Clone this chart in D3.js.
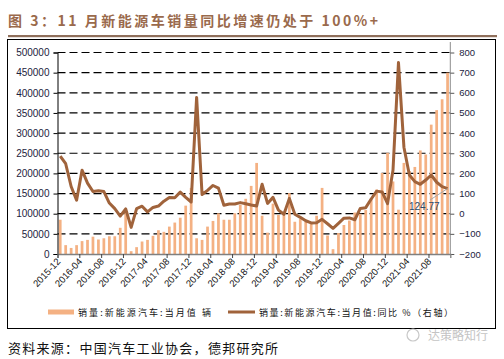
<!DOCTYPE html>
<html><head><meta charset="utf-8">
<script src="https://cdn.jsdelivr.net/npm/d3@7/dist/d3.min.js"></script>
<style>
html,body{margin:0;padding:0;background:#fff;}
svg{display:block;}
</style></head>
<body>
<svg id="c" width="504" height="359"></svg>
<script>
const months = [
"2015-12",
"2016-01","2016-02","2016-03","2016-04","2016-05","2016-06","2016-07","2016-08","2016-09","2016-10","2016-11","2016-12",
"2017-01","2017-02","2017-03","2017-04","2017-05","2017-06","2017-07","2017-08","2017-09","2017-10","2017-11","2017-12",
"2018-01","2018-02","2018-03","2018-04","2018-05","2018-06","2018-07","2018-08","2018-09","2018-10","2018-11","2018-12",
"2019-01","2019-02","2019-03","2019-04","2019-05","2019-06","2019-07","2019-08","2019-09","2019-10","2019-11","2019-12",
"2020-01","2020-02","2020-03","2020-04","2020-05","2020-06","2020-07","2020-08","2020-09","2020-10","2020-11","2020-12",
"2021-01","2021-02","2021-03","2021-04","2021-05","2021-06","2021-07","2021-08","2021-09","2021-10","2021-11"];

const sales = [
85000,
22000,15000,22000,32000,35000,43000,36000,39000,44000,44000,65000,104000,
7000,17000,31000,35000,45000,59000,55000,68000,78000,90000,120000,164000,
39000,35000,68000,82000,101000,85000,85000,101000,122000,137000,169000,226000,
95000,53000,125000,97000,101000,151000,80000,87000,80000,76000,95000,164000,
46000,12000,52000,72000,83000,103000,100000,109000,138000,160000,201000,251000,
180000,110000,226000,206000,216000,257000,247000,321000,357000,384000,450000];

const yoy = [
286,
248,135,67,216,152,110,114,110,53,25,-12,24,
-68,25,37,9,31,38,62,80,79,107,81,58,
577,95,116,140,127,42,48,48,55,49,43,38,
146,51,81,18,-3,76,-3,-18,-35,-46,-45,-28,
-50,-73,-48,-22,-21,-30,26,30,73,112,108,50,
217,750,330,192,159,146,167,192,156,134,124.77];

const leftTicks = [0,50000,100000,150000,200000,250000,300000,350000,400000,450000,500000];
const rightTicks = [-200,-100,0,100,200,300,400,500,600,700,800];
const xTickMonths = ["2015-12","2016-04","2016-08","2016-12","2017-04","2017-08","2017-12","2018-04","2018-08","2018-12","2019-04","2019-08","2019-12","2020-04","2020-08","2020-12","2021-04","2021-08"];

const titleText = "图 3：11 月新能源车销量同比增速仍处于 100%+";
const legendBar = "销量:新能源汽车:当月值 辆";
const legendLine = "销量:新能源汽车:当月值:同比 %（右轴）";
const sourceText = "资料来源：中国汽车工业协会，德邦研究所";
const annotText = "124.77";

const svg = d3.select("#c");
const L = 57.5, R = 450.3, T = 52.5, B = 254;
const num = "'Liberation Sans', Arial, sans-serif";
const cjk = "'Noto Sans CJK SC', 'Noto Sans', sans-serif";

const x = d3.scaleBand().domain(months).range([L, R]).padding(0);
const xi = d3.scaleLinear().domain([0, months.length]).range([L, R]);
const yL = d3.scaleLinear().domain([0, 500000]).range([B, T]);
const yR = d3.scaleLinear().domain([-200, 800]).range([B, T]);

// title
svg.append("text").attr("x", 8).attr("y", 26).text(titleText)
  .attr("font-family", cjk).attr("font-size", 14).attr("font-weight", "bold")
  .attr("fill", "#9a6a4c").attr("textLength", 370).attr("lengthAdjust", "spacing");
svg.append("rect").attr("x", 8).attr("y", 35).attr("width", 489).attr("height", 2.2).attr("fill", "#8f6f5b");
// box
svg.append("rect").attr("x", 7.5).attr("y", 39.5).attr("width", 488).attr("height", 289)
  .attr("fill", "none").attr("stroke", "#000").attr("stroke-width", 1);

// gridlines
svg.append("g").selectAll("line").data(leftTicks.filter(d => d > 0)).join("line")
  .attr("x1", L).attr("x2", R).attr("y1", d => yL(d)).attr("y2", d => yL(d))
  .attr("stroke", "#000").attr("stroke-width", 1.2).attr("stroke-dasharray", "8,4");

// bars
const bw = x.bandwidth() * 0.5;
svg.append("g").selectAll("rect").data(sales).join("rect")
  .attr("x", (d, i) => x(months[i]) + (x.bandwidth() - bw) / 2)
  .attr("width", bw)
  .attr("y", d => yL(d))
  .attr("height", d => B - yL(d))
  .attr("fill", "#f4b183");

// left axis
const gl = svg.append("g").attr("transform", `translate(${L},0)`)
  .call(d3.axisLeft(yL).tickValues(leftTicks).tickSize(4).tickPadding(4).tickFormat(d3.format("d")));
gl.select(".domain").attr("stroke", "#000");
gl.selectAll(".tick line").attr("stroke", "#000");
gl.selectAll("text").attr("font-family", num).attr("font-size", 10).attr("fill", "#1c2340");

// right axis
const gr = svg.append("g").attr("transform", `translate(${R},0)`)
  .call(d3.axisRight(yR).tickValues(rightTicks).tickSize(4).tickPadding(5));
gr.select(".domain").attr("stroke", "#8c8c8c").attr("d", `M0,42V${B}`);
gr.selectAll(".tick line").attr("stroke", "#555");
gr.selectAll("text").attr("font-family", num).attr("font-size", 9.5).attr("fill", "#1c2340");

// bottom axis
const gb = svg.append("g").attr("transform", `translate(0,${B})`)
  .call(d3.axisBottom(xi).tickValues(xTickMonths.map(m => months.indexOf(m))).tickSize(4)
    .tickFormat(i => months[i]));
gb.select(".domain").attr("stroke", "#808080").attr("stroke-width", 1.3);
gb.selectAll(".tick line").attr("stroke", "#444");
gb.selectAll("text").attr("font-family", num).attr("font-size", 9.5).attr("fill", "#111")
  .attr("text-anchor", "end").attr("dy", 0).attr("y", 0)
  .attr("transform", "translate(3,8) rotate(-47)");

// line
const line = d3.line().x((d, i) => x(months[i]) + x.bandwidth() / 2).y(d => yR(d));
svg.append("path").datum(yoy).attr("d", line).attr("fill", "none")
  .attr("stroke", "#a0633b").attr("stroke-width", 3).attr("stroke-linejoin", "round");

// annotation
const lastI = yoy.length - 1;
const lx = x(months[lastI]) + x.bandwidth() / 2, ly = yR(yoy[lastI]);
svg.append("line").attr("x1", 430).attr("y1", 200).attr("x2", lx).attr("y2", ly)
  .attr("stroke", "#a6a6a6").attr("stroke-width", 1);
svg.append("text").attr("x", 409).attr("y", 209.5).text(annotText)
  .attr("font-family", num).attr("font-size", 10).attr("fill", "#2b4a6a");

// legend
svg.append("rect").attr("x", 48).attr("y", 309.5).attr("width", 26).attr("height", 5).attr("fill", "#f4b183");
svg.append("text").attr("x", 78).attr("y", 315.5).text(legendBar)
  .attr("font-family", cjk).attr("font-size", 9).attr("fill", "#111")
  .attr("textLength", 133).attr("lengthAdjust", "spacing");
svg.append("line").attr("x1", 228).attr("x2", 255).attr("y1", 312).attr("y2", 312)
  .attr("stroke", "#a0633b").attr("stroke-width", 3);
svg.append("text").attr("x", 259).attr("y", 315.5).text(legendLine)
  .attr("font-family", cjk).attr("font-size", 9).attr("fill", "#111")
  .attr("textLength", 194).attr("lengthAdjust", "spacing");

// source
svg.append("text").attr("x", 8).attr("y", 353).text(sourceText)
  .attr("font-family", cjk).attr("font-size", 13).attr("fill", "#111")
  .attr("textLength", 270).attr("lengthAdjust", "spacing");

// watermark
svg.append("circle").attr("cx", 413).attr("cy", 335).attr("r", 6).attr("fill", "none").attr("stroke", "#c8c8c8").attr("stroke-width", 1.2);
svg.append("text").attr("x", 428).attr("y", 340).text("达策略知行")
  .attr("font-family", cjk).attr("font-size", 12).attr("fill", "#c4c4c4");
</script>
</body></html>
